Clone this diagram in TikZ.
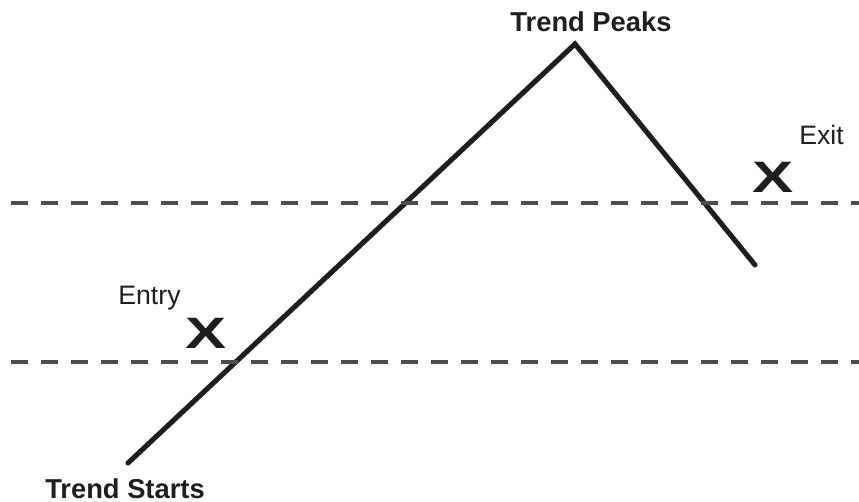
\documentclass[tikz,border=0pt]{standalone}
\usepackage{fontspec}
\setmainfont{Liberation Sans}
\usepackage{xcolor}
\definecolor{trendBlack}{RGB}{30, 30, 30}
\definecolor{levelGray}{RGB}{77, 77, 77}
\tikzset{
    trend/.style={draw=trendBlack, line width=3.8pt, line cap=round, line join=miter},
    level/.style={draw=levelGray, line width=3.6pt, dash pattern=on 12.75pt off 9.75pt},
    headText/.style={font=\fontsize{20.5}{24}\selectfont\bfseries, text=trendBlack, inner sep=0pt, anchor=base},
    noteText/.style={font=\fontsize{20}{24}\selectfont, text=trendBlack, inner sep=0pt, anchor=base},
    markX/.style={font=\fontsize{33}{36}\selectfont\bfseries, text=trendBlack, inner sep=0pt, anchor=base, xscale=1.4}
}

\begin{document}
\begin{tikzpicture}[x=0.75pt, y=-0.75pt]
    \useasboundingbox (0,0) rectangle (859,502);

    % --- TREND LINE ---
    \coordinate (start) at (128,463);
    \coordinate (peak) at (575,44);
    \coordinate (finish) at (755,265);
    \draw[trend] (start) -- (peak) -- (finish);

    % --- LEVELS ---
    \coordinate (upperL) at (11,203);
    \coordinate (upperR) at (870,203);
    \coordinate (lowerL) at (11,362);
    \coordinate (lowerR) at (870,362);
    \draw[level] (upperL) -- (upperR);
    \draw[level] (lowerL) -- (lowerR);

    % --- LABELS ---
    \node[headText] (peakLabel) at (591,32) {Trend Peaks};
    \node[headText] (startLabel) at (125,498) {Trend Starts};
    \node[noteText] (entryLabel) at (149.5,304) {Entry};
    \node[markX] (entryX) at (206,348) {X};
    \node[noteText] (exitLabel) at (821.5,145) {Exit};
    \node[markX] (exitX) at (773,193) {X};

\end{tikzpicture}
\end{document}
